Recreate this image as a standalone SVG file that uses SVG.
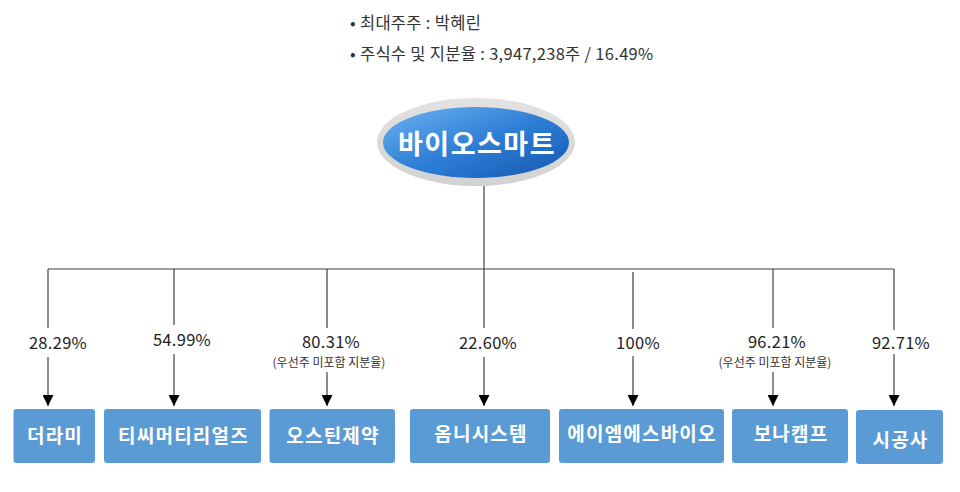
<svg xmlns="http://www.w3.org/2000/svg" width="960" height="492" viewBox="0 0 960 492">
<defs>
<linearGradient id="blueG" x1="0" y1="0" x2="1" y2="1">
<stop offset="0" stop-color="#6DB3F0"/>
<stop offset="0.5" stop-color="#2F7FD6"/>
<stop offset="1" stop-color="#1357B0"/>
</linearGradient>
<linearGradient id="grayG" x1="0" y1="0" x2="0" y2="1">
<stop offset="0" stop-color="#E2E2E2"/>
<stop offset="1" stop-color="#D2D2D2"/>
</linearGradient>
<marker id="arr" markerUnits="userSpaceOnUse" markerWidth="11" markerHeight="11" refX="10" refY="5" orient="auto" viewBox="0 0 10 10">
<path d="M0,0 L10,5 L0,10 z" fill="#000"/>
</marker>
<style>
.info{font-family:"Noto Sans CJK KR","Noto Sans",sans-serif;font-size:16.5px;letter-spacing:0.3px;fill:#333}
.pct{font-family:"Noto Sans CJK KR","Noto Sans",sans-serif;font-size:16.5px;letter-spacing:0.3px;fill:#222;text-anchor:middle}
.sub{font-family:"Noto Sans CJK KR","Noto Sans",sans-serif;font-size:12px;fill:#333;text-anchor:middle}
.box{fill:#5B9BD5}
.bt{font-family:"Noto Sans CJK KR","Noto Sans",sans-serif;font-size:19px;letter-spacing:1.2px;font-weight:bold;fill:#fff;text-anchor:middle}
.ln{stroke:#404040;stroke-width:1.2;fill:none}
.ar{stroke:#404040;stroke-width:1.2;fill:none;marker-end:url(#arr)}
</style>
</defs>
<rect width="960" height="492" fill="#fff"/>
<g id="info">
<text class="info" x="350" y="29">• 최대주주 : 박혜린</text>
<text class="info" x="350" y="60">• 주식수 및 지분율 : 3,947,238주 / 16.49%</text>
</g>
<g id="connectors">
<line class="ln" x1="484" y1="186" x2="484" y2="269"/>
<line class="ln" x1="48" y1="269" x2="894" y2="269"/>
<line class="ln" x1="48" y1="269" x2="48" y2="328"/>
<line class="ar" x1="48" y1="357" x2="48" y2="406"/>
<line class="ln" x1="174" y1="269" x2="174" y2="325"/>
<line class="ar" x1="174" y1="354" x2="174" y2="406"/>
<line class="ln" x1="327" y1="269" x2="327" y2="328"/>
<line class="ar" x1="327" y1="372" x2="327" y2="406"/>
<line class="ln" x1="484" y1="269" x2="484" y2="328"/>
<line class="ar" x1="484" y1="357" x2="484" y2="406"/>
<line class="ln" x1="633" y1="272" x2="633" y2="329"/>
<line class="ar" x1="633" y1="356" x2="633" y2="406"/>
<line class="ln" x1="773" y1="269" x2="773" y2="328"/>
<line class="ar" x1="773" y1="372" x2="773" y2="406"/>
<line class="ln" x1="894" y1="269" x2="894" y2="330"/>
<line class="ar" x1="894" y1="354" x2="894" y2="406"/>
</g>
<g id="labels">
<text class="pct" x="58" y="349">28.29%</text>
<text class="pct" x="182" y="346">54.99%</text>
<text class="pct" x="331" y="348">80.31%</text>
<text class="sub" x="329" y="367">(우선주 미포함 지분율)</text>
<text class="pct" x="488" y="349">22.60%</text>
<text class="pct" x="638" y="349">100%</text>
<text class="pct" x="777" y="348">96.21%</text>
<text class="sub" x="775" y="367">(우선주 미포함 지분율)</text>
<text class="pct" x="901" y="349">92.71%</text>
</g>
<g id="node-biosmart">
<ellipse cx="476" cy="142" rx="99" ry="44" fill="url(#grayG)"/>
<ellipse cx="476" cy="142.5" rx="93" ry="35.5" fill="url(#blueG)"/>
<text x="477" y="154" font-family="'Noto Sans CJK KR','Noto Sans',sans-serif" font-size="27" letter-spacing="1.5" font-weight="bold" fill="#fff" text-anchor="middle">바이오스마트</text>
</g>
<g id="node-derami">
<rect class="box" x="13.5" y="409" width="81.5" height="54" rx="3"/>
<text class="bt" x="55" y="443">더라미</text>
</g>
<g id="node-tcmaterials">
<rect class="box" x="104" y="409" width="157" height="54" rx="3"/>
<text class="bt" x="183.5" y="443">티씨머티리얼즈</text>
</g>
<g id="node-austin">
<rect class="box" x="269.5" y="409" width="125.5" height="54" rx="3"/>
<text class="bt" x="333" y="443">오스틴제약</text>
</g>
<g id="node-omni">
<rect class="box" x="410" y="409" width="140" height="54" rx="3"/>
<text class="bt" x="481" y="441">옴니시스템</text>
</g>
<g id="node-ams">
<rect class="box" x="559" y="409" width="165" height="54" rx="3"/>
<text class="bt" x="642" y="441">에이엠에스바이오</text>
</g>
<g id="node-bonacamp">
<rect class="box" x="732" y="409" width="116" height="54" rx="3"/>
<text class="bt" x="791" y="441">보나캠프</text>
</g>
<g id="node-sigongsa">
<rect class="box" x="856" y="410" width="87" height="54" rx="3"/>
<text class="bt" x="900.5" y="447">시공사</text>
</g>
</svg>
